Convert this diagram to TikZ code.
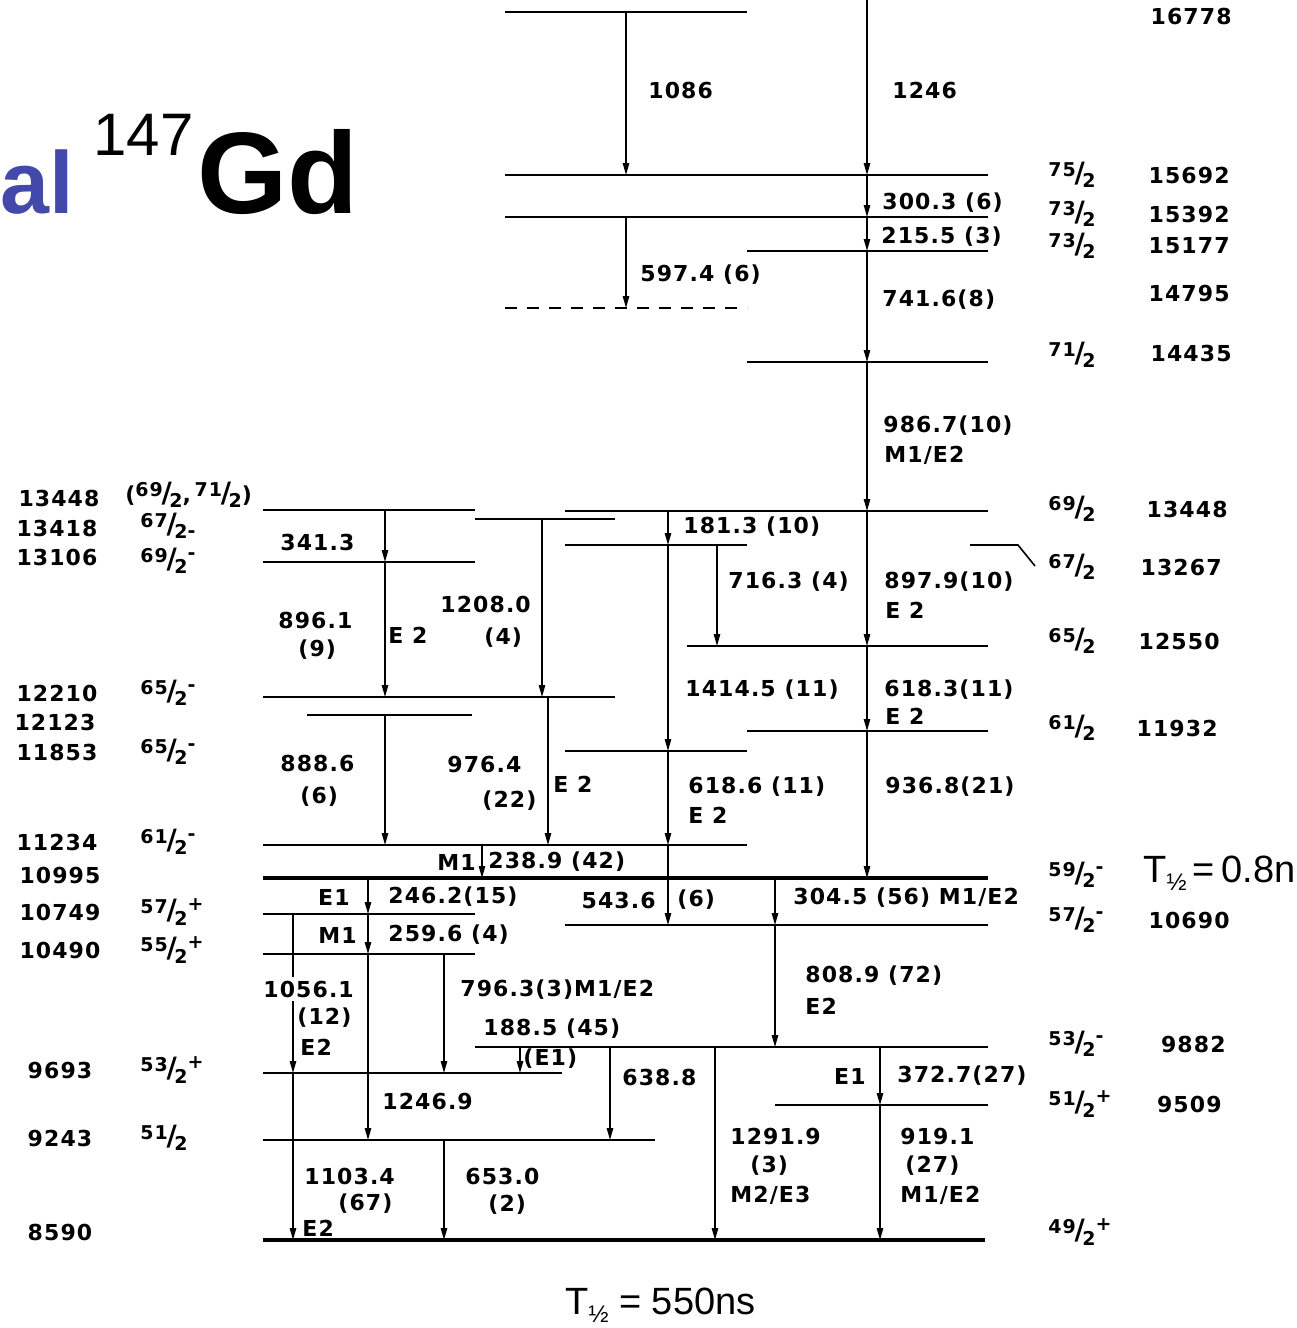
\documentclass[tikz,border=0pt]{standalone}
\usepackage{fontspec}
\setmainfont{Liberation Sans}
\newfontfamily\labfam[LetterSpace=5]{DejaVu Sans}
\usetikzlibrary{arrows.meta,calc}
\definecolor{titleblue}{RGB}{67,73,170}
\newcommand\labfont{\labfam\bfseries\fontsize{11}{12}\selectfont}
\newcommand\jfrac[2]{{\fontsize{9.5}{9.5}\selectfont\raisebox{3pt}{#1}}\kern-0.6pt{\fontsize{14}{14}\selectfont/}\kern-1.2pt{\fontsize{9.5}{9.5}\selectfont\raisebox{-2.6pt}{2}\raisebox{4.5pt}{#2}}}
\newcommand\jlow[1]{{\fontsize{9.5}{9.5}\selectfont\raisebox{3pt}{#1}}\kern-0.6pt{\fontsize{14}{14}\selectfont/}\kern-1.2pt{\fontsize{9.5}{9.5}\selectfont\raisebox{-2.6pt}{2}\raisebox{-2pt}{-}}}
\newcommand\lev[5][lev]{\coordinate (#2) at (0,#3); \draw[#1] (#4,#3) -- (#5,#3);}
\newcommand\gam[3]{\draw[trans] ($(#2)+(#1,0)$) -- ($(#3)+(#1,0)$);}
\tikzset{
  lev/.style={line width=1.2pt},
  levt/.style={line width=2pt},
  levd/.style={line width=1.2pt, dash pattern=on 6pt off 5pt},
  trans/.style={line width=0.7pt, -{Triangle[length=6pt,width=3.2pt]}},
  lab/.style={font=\labfont, inner sep=0pt},
  mask/.style={fill=white, inner xsep=0pt, inner ysep=2pt},
  hl/.style={font=\fontsize{19}{20}\selectfont, inner sep=0pt},
}
\begin{document}
\begin{tikzpicture}[x=0.5pt,y=-0.5pt]
\useasboundingbox (0,0) rectangle (1296,1328);
% title
\node[font=\fontsize{44}{44}\selectfont\bfseries, text=titleblue, inner sep=0pt, anchor=base west] (al) at (0,213) {al};
\node[font=\fontsize{30}{30}\selectfont, inner sep=0pt, anchor=base west] (mass) at (93,155) {147};
\node[font=\fontsize{58}{58}\selectfont\bfseries, inner sep=0pt, anchor=base west] (gd) at (197,213) {Gd};
% levels
\coordinate (Ltop) at (0,-4);
\lev{L16778}{12}{505}{747}
\lev{L15692}{175}{505}{988}
\lev{L15392}{217}{505}{988}
\lev{L15177}{251}{747}{988}
\lev[levd]{L14795}{308}{505}{747}
\lev{L14435}{362}{747}{988}
\lev{L13448}{511}{565}{988}
\draw[lev] (263,510) -- (475,510);
\lev{L13418}{519}{475}{615}
\lev{L13267}{545}{565}{747}
\lev{L13106}{562}{263}{475}
\lev{L12550}{646}{687}{988}
\lev{L12210}{697}{263}{615}
\lev{L12123}{715}{307}{472}
\lev{L11932}{731}{747}{988}
\lev{L11853}{751}{565}{747}
\lev{L11234}{845}{263}{747}
\lev[levt]{L10995}{878}{263}{988}
\lev{L10749}{914}{263}{475}
\lev{L10690}{925}{565}{988}
\lev{L10490}{954}{263}{475}
\lev{L9882}{1047}{475}{988}
\lev{L9693}{1073}{263}{562}
\lev{L9509}{1105}{775}{988}
\lev{L9243}{1140}{263}{655}
\lev[levt]{L8590}{1240}{263}{985}
% leader for 67/2
\coordinate (lead) at (1035,566);
\draw[line width=0.8pt] (970,545) -- (1018,545) -- (lead);
% transitions
\gam{626}{L16778}{L15692}
\gam{867}{Ltop}{L15692}
\gam{867}{L15692}{L15392}
\gam{867}{L15392}{L15177}
\gam{626}{L15392}{L14795}
\gam{867}{L15177}{L14435}
\gam{867}{L14435}{L13448}
\gam{385}{L13448}{L13106}
\gam{385}{L13106}{L12210}
\gam{542}{L13418}{L12210}
\gam{385}{L12123}{L11234}
\gam{548}{L12210}{L11234}
\gam{668}{L13448}{L13267}
\gam{717}{L13267}{L12550}
\gam{668}{L13267}{L11853}
\gam{668}{L11853}{L11234}
\gam{668}{L11234}{L10690}
\gam{867}{L13448}{L12550}
\gam{867}{L12550}{L11932}
\gam{867}{L11932}{L10995}
\gam{482}{L11234}{L10995}
\gam{368}{L10995}{L10749}
\gam{368}{L10749}{L10490}
\gam{368}{L10490}{L9243}
\gam{293}{L10749}{L9693}
\gam{444}{L10490}{L9693}
\gam{520}{L9882}{L9693}
\gam{610}{L9882}{L9243}
\gam{715}{L9882}{L8590}
\gam{775}{L10995}{L10690}
\gam{775}{L10690}{L9882}
\gam{880}{L9882}{L9509}
\gam{880}{L9509}{L8590}
\gam{293}{L9693}{L8590}
\gam{444}{L9243}{L8590}
% transition labels
\node[lab,anchor=west] (t1086) at (648,90) {1086};
\node[lab,anchor=west] (t1246) at (892,90) {1246};
\node[lab,anchor=west] (t300) at (882,203) {300.3 (6)};
\node[lab,anchor=west] (t215) at (881,237) {215.5 (3)};
\node[lab,anchor=west] (t597) at (640,275) {597.4 (6)};
\node[lab,anchor=west] (t741) at (882,300) {741.6(8)};
\node[lab,anchor=west] (t986) at (883,426) {986.7(10)};
\node[lab,anchor=west] (t986m) at (884,455) {M1/E2};
\node[lab,anchor=west] (t181) at (683,527) {181.3 (10)};
\node[lab,anchor=west] (t716) at (728,582) {716.3 (4)};
\node[lab,anchor=west] (t897) at (884,582) {897.9(10)};
\node[lab,anchor=west] (t897m) at (885,610) {E 2};
\node[lab,anchor=west] (t1414) at (685,690) {1414.5 (11)};
\node[lab,anchor=west] (t618a) at (884,690) {618.3(11)};
\node[lab,anchor=west] (t618am) at (885,716) {E 2};
\node[lab,anchor=west] (t618b) at (688,787) {618.6 (11)};
\node[lab,anchor=west] (t618bm) at (688,815) {E 2};
\node[lab,anchor=west] (t936) at (885,787) {936.8(21)};
\node[lab,anchor=west] (t341) at (280,542) {341.3};
\node[lab,anchor=west] (t896) at (278,620) {896.1};
\node[lab,anchor=west] (t896i) at (298,650) {(9)};
\node[lab,anchor=west] (t896m) at (388,635) {E 2};
\node[lab,anchor=west] (t1208) at (440,604) {1208.0};
\node[lab,anchor=west] (t1208i) at (484,638) {(4)};
\node[lab,anchor=west] (t888) at (280,763) {888.6};
\node[lab,anchor=west] (t888i) at (300,797) {(6)};
\node[lab,anchor=west] (t976) at (447,764) {976.4};
\node[lab,anchor=west] (t976i) at (482,801) {(22)};
\node[lab,anchor=west] (t976m) at (553,784) {E 2};
\node[lab,anchor=east] (t238m) at (476,862) {M1};
\node[lab,anchor=west] (t238) at (488,862) {238.9 (42)};
\node[lab,anchor=east] (t246m) at (350,897) {E1};
\node[lab,anchor=west] (t246) at (388,897) {246.2(15)};
\node[lab,anchor=east] (t259m) at (357,935) {M1};
\node[lab,anchor=west] (t259) at (388,935) {259.6 (4)};
\node[lab,anchor=east] (t543) at (656,900) {543.6};
\node[lab,anchor=west] (t543i) at (677,900) {(6)};
\node[lab,anchor=west] (t304) at (793,898) {304.5 (56) M1/E2};
\node[lab,mask,anchor=west] (t1056) at (263,989) {1056.1};
\node[lab,mask,anchor=west] (t1056i) at (297,1018) {(12)};
\node[lab,anchor=west] (t1056m) at (300,1047) {E2};
\node[lab,anchor=west] (t796) at (460,990) {796.3(3)M1/E2};
\node[lab,anchor=west] (t808) at (805,976) {808.9 (72)};
\node[lab,anchor=west] (t808m) at (805,1006) {E2};
\node[lab,anchor=west] (t188) at (483,1029) {188.5 (45)};
\node[lab,anchor=west] (t188m) at (523,1059) {(E1)};
\node[lab,anchor=west] (t638) at (622,1077) {638.8};
\node[lab,anchor=west] (t1246b) at (382,1101) {1246.9};
\node[lab,anchor=east] (t372m) at (866,1076) {E1};
\node[lab,anchor=west] (t372) at (897,1076) {372.7(27)};
\node[lab,anchor=west] (t1291) at (730,1136) {1291.9};
\node[lab,anchor=west] (t1291i) at (750,1166) {(3)};
\node[lab,anchor=west] (t1291m) at (730,1195) {M2/E3};
\node[lab,anchor=west] (t919) at (900,1136) {919.1};
\node[lab,anchor=west] (t919i) at (905,1166) {(27)};
\node[lab,anchor=west] (t919m) at (900,1195) {M1/E2};
\node[lab,anchor=west] (t1103) at (304,1176) {1103.4};
\node[lab,anchor=west] (t1103i) at (338,1204) {(67)};
\node[lab,anchor=west] (t1103m) at (302,1228) {E2};
\node[lab,anchor=west] (t653) at (465,1176) {653.0};
\node[lab,anchor=west] (t653i) at (488,1205) {(2)};
% right column
\node[lab,anchor=east] (e16778) at (1232,16) {16778};
\node[lab,anchor=west] (s15692) at (1048,175) {\jfrac{75}{}};
\node[lab,anchor=east] (e15692) at (1230,175) {15692};
\node[lab,anchor=west] (s15392) at (1048,214) {\jfrac{73}{}};
\node[lab,anchor=east] (e15392) at (1230,214) {15392};
\node[lab,anchor=west] (s15177) at (1048,246) {\jfrac{73}{}};
\node[lab,anchor=east] (e15177) at (1230,246) {15177};
\node[lab,anchor=east] (e14795) at (1230,293) {14795};
\node[lab,anchor=west] (s14435) at (1048,355) {\jfrac{71}{}};
\node[lab,anchor=east] (e14435) at (1232,353) {14435};
\node[lab,anchor=west] (s13448r) at (1048,509) {\jfrac{69}{}};
\node[lab,anchor=east] (e13448r) at (1228,509) {13448};
\node[lab,anchor=west] (s13267) at (1048,567) {\jfrac{67}{}};
\node[lab,anchor=east] (e13267) at (1222,567) {13267};
\node[lab,anchor=west] (s12550) at (1048,641) {\jfrac{65}{}};
\node[lab,anchor=east] (e12550) at (1220,641) {12550};
\node[lab,anchor=west] (s11932) at (1048,728) {\jfrac{61}{}};
\node[lab,anchor=east] (e11932) at (1218,728) {11932};
\node[lab,anchor=west] (s10995r) at (1048,875) {\jfrac{59}{-}};
\node[hl,anchor=west] (thalf1) at (1143,873) {T\raisebox{-4pt}{\fontsize{12}{12}\selectfont ½}\,=\,0.8n};
\node[lab,anchor=west] (s10690) at (1048,920) {\jfrac{57}{-}};
\node[lab,anchor=east] (e10690) at (1230,920) {10690};
\node[lab,anchor=west] (s9882) at (1048,1044) {\jfrac{53}{-}};
\node[lab,anchor=east] (e9882) at (1226,1044) {9882};
\node[lab,anchor=west] (s9509) at (1048,1104) {\jfrac{51}{+}};
\node[lab,anchor=east] (e9509) at (1222,1104) {9509};
\node[lab,anchor=west] (s8590r) at (1048,1232) {\jfrac{49}{+}};
% left column
\node[lab] (e13448) at (59,498) {13448};
\node[lab,anchor=base west] (s13448) at (125,502) {\smash{(\jfrac{69}{},\,\jfrac{71}{})}};
\node[lab] (e13418) at (57,528) {13418};
\node[lab,anchor=base west] (s13418) at (140,533) {\smash{\jlow{67}}};
\node[lab] (e13106) at (57,557) {13106};
\node[lab,anchor=base west] (s13106) at (140,568) {\smash{\jfrac{69}{-}}};
\node[lab] (e12210) at (57,693) {12210};
\node[lab,anchor=west] (s12210) at (140,693) {\jfrac{65}{-}};
\node[lab] (e12123) at (55,722) {12123};
\node[lab] (e11853) at (57,752) {11853};
\node[lab,anchor=west] (s11853) at (140,752) {\jfrac{65}{-}};
\node[lab] (e11234) at (57,842) {11234};
\node[lab,anchor=west] (s11234) at (140,842) {\jfrac{61}{-}};
\node[lab] (e10995) at (60,875) {10995};
\node[lab] (e10749) at (60,912) {10749};
\node[lab,anchor=west] (s10749) at (140,912) {\jfrac{57}{+}};
\node[lab] (e10490) at (60,950) {10490};
\node[lab,anchor=west] (s10490) at (140,950) {\jfrac{55}{+}};
\node[lab] (e9693) at (60,1070) {9693};
\node[lab,anchor=west] (s9693) at (140,1070) {\jfrac{53}{+}};
\node[lab] (e9243) at (60,1138) {9243};
\node[lab,anchor=west] (s9243) at (140,1138) {\jfrac{51}{}};
\node[lab] (e8590) at (60,1232) {8590};
% bottom half-life
\node[hl,anchor=west] (thalf2) at (565,1305) {T\raisebox{-4pt}{\fontsize{12}{12}\selectfont ½}\;=\;550ns};
\end{tikzpicture}
\end{document}
